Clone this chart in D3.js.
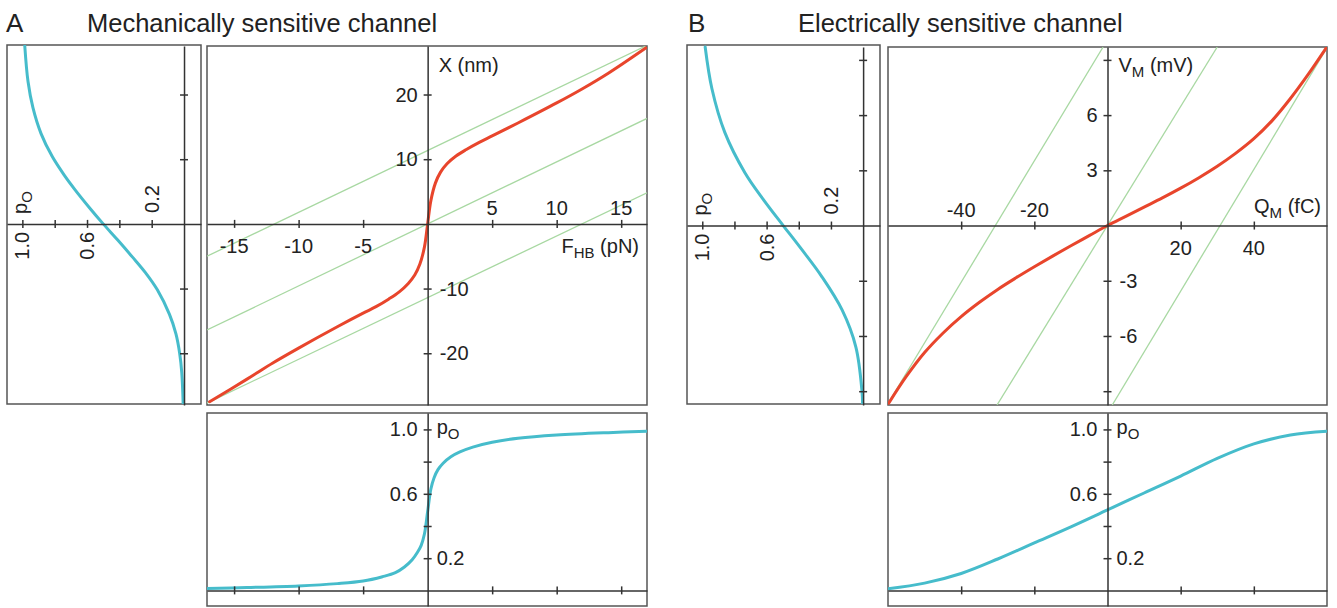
<!DOCTYPE html>
<html>
<head>
<meta charset="utf-8">
<script src="https://cdn.jsdelivr.net/npm/d3@7"></script>
<style>
  body { margin: 0; background: #fff; }
  text { font-family: "Liberation Sans", Arial, Helvetica, sans-serif; fill: #222; }
</style>
</head>
<body>
<script>
// ---- data ----
// A: mechanically sensitive channel, X (nm) against F_HB (pN)
const mechRedF = [-16.9, -14, -12, -10, -7, -5, -4, -3, -2.2, -1.5, -1.0, -0.6, -0.25, 0, 0.25, 0.6, 1.0, 1.5, 2.2, 3, 4, 5, 7, 10, 12, 14, 16.9];
const mechRedX = [-27.5, -24.0, -21.5, -19.2, -15.9, -13.8, -12.8, -11.6, -10.5, -9.2, -7.9, -6.2, -3.6, 0, 3.6, 6.3, 8.0, 9.3, 10.5, 11.5, 12.6, 13.6, 15.6, 18.7, 20.9, 23.3, 27.2];
// green lines, as [F, X] end points
const mechGreen = [
  [[-17.1, -5.0], [16.9, 27.5]],
  [[-17.1, -16.4], [17.0, 16.3]],
  [[-17.1, -27.7], [17.0, 4.8]]
];
const mechPoF = [-17.1, -14, -10, -7, -5, -3.5, -2.5, -1.8, -1.2, -0.8, -0.5, -0.25, 0, 0.25, 0.5, 0.8, 1.2, 1.8, 2.5, 3.5, 5, 7, 10, 14, 17];
const mechPo  = [0.012, 0.018, 0.028, 0.042, 0.058, 0.085, 0.11, 0.145, 0.19, 0.235, 0.28, 0.35, 0.49, 0.63, 0.7, 0.75, 0.79, 0.83, 0.86, 0.89, 0.92, 0.945, 0.965, 0.98, 0.988];
const mechSideX  = [27.5, 22, 18, 14, 10.4, 7.5, 5.3, 2.5, 0, -2.5, -5.1, -7.5, -10.2, -14, -17, -20, -23, -28];
const mechSidePo = [0.985, 0.965, 0.935, 0.885, 0.815, 0.74, 0.675, 0.585, 0.5, 0.41, 0.32, 0.24, 0.165, 0.09, 0.05, 0.027, 0.014, 0.005];
const mechFTicks = [-15, -10, -5, 5, 10, 15];
const mechXTicks = [-20, -10, 10, 20];

// B: electrically sensitive channel, V_M (mV) against Q_M (fC)
const elecRedQ = [-59.8, -55, -50, -45, -40, -35, -30, -25, -20, -15, -10, -5, 0, 5, 10, 15, 20, 25, 30, 35, 40, 45, 50, 55, 59.8];
const elecRedV = [-9.65, -8.2, -6.9, -5.85, -4.95, -4.17, -3.47, -2.84, -2.24, -1.66, -1.1, -0.55, 0, 0.5, 1.0, 1.5, 2.03, 2.6, 3.22, 3.92, 4.72, 5.7, 6.9, 8.25, 9.65];
const elecGreen = [
  [[-59.8, -9.6], [-1.2, 9.7]],
  [[-30.2, -9.75], [30.0, 9.7]],
  [[1.3, -9.75], [59.8, 9.6]]
];
const elecPoQ = [-60, -50, -40, -30, -20, -10, 0, 10, 20, 30, 40, 50, 60];
const elecPo  = [0.01, 0.045, 0.105, 0.195, 0.295, 0.395, 0.5, 0.605, 0.71, 0.82, 0.91, 0.965, 0.988];
const elecSideV  = [9.7, 7.43, 5.06, 2.87, 1.41, 0, -1.15, -2.8, -4.6, -6.6, -9.0, -9.75];
const elecSidePo = [0.982, 0.94, 0.86, 0.735, 0.62, 0.497, 0.395, 0.255, 0.13, 0.045, 0.007, 0.003];
const elecQTicks = [-40, -20, 20, 40];
const elecVTicks = [-9, -6, -3, 3, 6, 9];

const poTicks = [0.2, 0.4, 0.6, 0.8, 1.0];

// ---- drawing ----
const red = "#e8452c", cyan = "#46bccb", green = "#a8d8a2", axisColor = "#333", boxColor = "#555";

const svg = d3.select("body").append("svg").attr("width", 1337).attr("height", 608);

function box(b) {
  svg.append("rect")
    .attr("x", b.x0).attr("y", b.y0)
    .attr("width", b.x1 - b.x0).attr("height", b.y1 - b.y0)
    .attr("fill", "none").attr("stroke", boxColor).attr("stroke-width", 1.5);
}

let clipCount = 0;
function clipped(b) {
  const id = "clip" + (clipCount++);
  svg.append("clipPath").attr("id", id).append("rect")
    .attr("x", b.x0).attr("y", b.y0).attr("width", b.x1 - b.x0).attr("height", b.y1 - b.y0);
  return svg.append("g").attr("clip-path", `url(#${id})`);
}

function styleAxis(g) {
  g.select(".domain").attr("stroke", axisColor).attr("stroke-width", 1.5);
  g.selectAll(".tick line").attr("stroke", axisColor).attr("stroke-width", 1.5);
}

function hAxis(scale, y, ticks) {
  const g = svg.append("g").attr("transform", `translate(0,${y})`)
    .call(d3.axisBottom(scale).tickValues(ticks).tickSize(4).tickSizeOuter(0).tickFormat(""));
  styleAxis(g);
  g.selectAll(".tick line").attr("y1", -4).attr("y2", 4);
}

function vAxis(scale, x, ticks) {
  const g = svg.append("g").attr("transform", `translate(${x},0)`)
    .call(d3.axisLeft(scale).tickValues(ticks).tickSize(4).tickSizeOuter(0).tickFormat(""));
  styleAxis(g);
  g.selectAll(".tick line").attr("x1", 4).attr("x2", -4);
}

function label(x, y, s, anchor, sub, rest, size) {
  const t = svg.append("text").attr("x", x).attr("y", y)
    .attr("text-anchor", anchor || "start").attr("font-size", size || 20);
  t.append("tspan").text(s);
  if (sub) {
    t.append("tspan").attr("font-size", 15).attr("dy", 5).text(sub);
    if (rest) t.append("tspan").attr("dy", -5).text(rest);
  }
  return t;
}

const smooth = d3.curveCatmullRom.alpha(0.5);

function curve(g, xs, ys, sx, sy, color, width) {
  const pts = d3.zip(xs, ys);
  g.append("path").datum(pts)
    .attr("fill", "none").attr("stroke", color).attr("stroke-width", width)
    .attr("stroke-linecap", "round")
    .attr("d", d3.line().x(d => sx(d[0])).y(d => sy(d[1])).curve(smooth)(pts));
}

function drawChannel(c) {
  const x = d3.scaleLinear().domain(c.xDomain).range([c.main.x0, c.main.x1]);
  const y = d3.scaleLinear().domain(c.yDomain).range([c.main.y1, c.main.y0]);
  const pb = d3.scaleLinear().domain([-0.097, 1.102]).range([c.bottom.y1, c.bottom.y0]);
  const pl = d3.scaleLinear().domain([-0.105, 1.095]).range([c.left.x1, c.left.x0]);

  // title
  label(c.letterX, 32, c.letter, "start", null, null, 26);
  label(c.titleX, 32, c.title, "start", null, null, 25.5);

  // main plot
  box(c.main);
  const gm = clipped(c.main);
  c.green.forEach(seg => {
    gm.append("line")
      .attr("x1", x(seg[0][0])).attr("y1", y(seg[0][1]))
      .attr("x2", x(seg[1][0])).attr("y2", y(seg[1][1]))
      .attr("stroke", green).attr("stroke-width", 1.3);
  });
  hAxis(x, y(0), c.xTicks);
  vAxis(y, x(0), c.yTicks);
  curve(gm, c.redX, c.redY, x, y, red, 3);

  c.xTicks.forEach(v => {
    if (c.xLabels.indexOf(v) < 0) return;
    const above = c.xAbove(v);
    label(x(v), above ? y(0) - 9 : y(0) + 29, String(v), "middle");
  });
  c.yTicks.forEach(v => {
    if (c.yLabels.indexOf(v) < 0) return;
    if (v > 0) label(x(0) - 10, y(v), String(v), "end").attr("dy", "0.35em");
    else label(x(0) + 12, y(v), String(v), "start").attr("dy", "0.35em");
  });
  label(x(0) + 11, 72, c.yName[0], "start", c.yName[1], c.yName[2]);
  label(c.xNameX, c.xNameY, c.xName[0], "end", c.xName[1], c.xName[2]);

  // bottom plot: p_O against the main x variable
  box(c.bottom);
  const gb = clipped(c.bottom);
  hAxis(x, pb(0), c.xTicks);
  vAxis(pb, x(0), poTicks);
  curve(gb, c.poX, c.po, x, pb, cyan, 3);
  label(x(0) - 10, pb(1.0), "1.0", "end").attr("dy", "0.35em");
  label(x(0) - 10, pb(0.6), "0.6", "end").attr("dy", "0.35em");
  label(x(0) + 9, pb(0.2), "0.2", "start").attr("dy", "0.35em");
  label(x(0) + 9, pb(1.0) + 5, "p", "start", "O");

  // left plot: p_O against the main y variable, turned on its side
  box(c.left);
  const gl = clipped(c.left);
  hAxis(pl, y(0), poTicks);
  vAxis(y, pl(0), c.yTicks);
  curve(gl, c.sidePo, c.sideY, pl, y, cyan, 3);
  const rot = (t, px, py) => t.attr("transform", `rotate(-90,${px},${py})`);
  [1.0, 0.6].forEach(v => {
    const px = pl(v), py = y(0) + 8;
    rot(label(px, py, v.toFixed(1), "end").attr("dy", "0.35em"), px, py);
  });
  {
    const px = pl(0.2), py = y(0) - 11;
    rot(label(px, py, "0.2", "start").attr("dy", "0.35em"), px, py);
  }
  {
    const px = pl(1.0) + 5, py = y(0) - 10;
    rot(label(px, py, "p", "start", "O"), px, py);
  }
}

drawChannel({
  letter: "A", letterX: 6, title: "Mechanically sensitive channel", titleX: 87,
  main: { x0: 207, x1: 647, y0: 46, y1: 405 },
  left: { x0: 7, x1: 201, y0: 45, y1: 404 },
  bottom: { x0: 207, x1: 647, y0: 413, y1: 606 },
  xDomain: [-17.1, 17.0], yDomain: [-28, 27.5],
  xTicks: mechFTicks, xLabels: mechFTicks, xAbove: v => v > 0,
  yTicks: mechXTicks, yLabels: mechXTicks,
  yName: ["X (nm)"], xName: ["F", "HB", " (pN)"], xNameX: 639, xNameY: 253,
  green: mechGreen, redX: mechRedF, redY: mechRedX,
  poX: mechPoF, po: mechPo, sideY: mechSideX, sidePo: mechSidePo
});

drawChannel({
  letter: "B", letterX: 688, title: "Electrically sensitive channel", titleX: 798,
  main: { x0: 888, x1: 1327, y0: 47, y1: 405 },
  left: { x0: 687, x1: 880, y0: 45, y1: 404 },
  bottom: { x0: 888, x1: 1327, y0: 413, y1: 606 },
  xDomain: [-60, 60], yDomain: [-9.75, 9.7],
  xTicks: elecQTicks, xLabels: elecQTicks, xAbove: v => v < 0,
  yTicks: elecVTicks, yLabels: [-6, -3, 3, 6],
  yName: ["V", "M", " (mV)"], xName: ["Q", "M", " (fC)"], xNameX: 1321, xNameY: 213,
  green: elecGreen, redX: elecRedQ, redY: elecRedV,
  poX: elecPoQ, po: elecPo, sideY: elecSideV, sidePo: elecSidePo
});
</script>
</body>
</html>
